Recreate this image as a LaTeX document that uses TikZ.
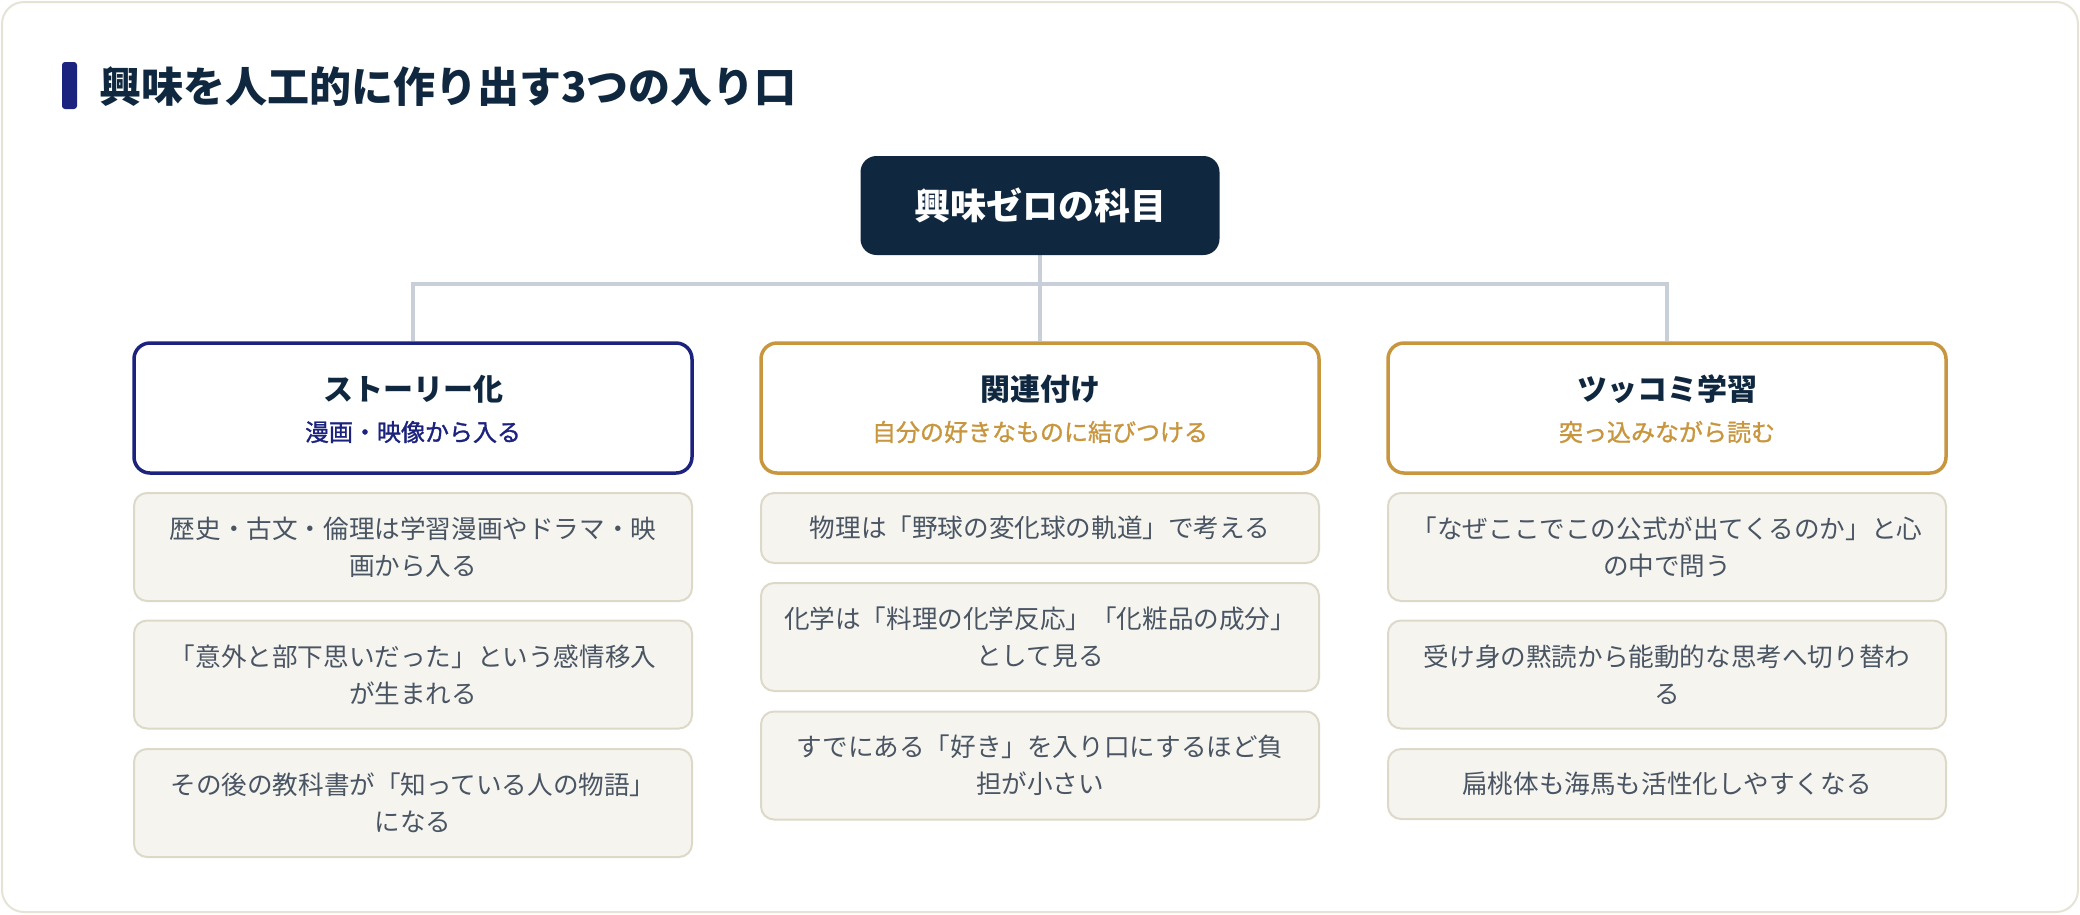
\documentclass[tikz,border=0pt]{standalone}
\usepackage{fontspec}
\usetikzlibrary{backgrounds}
\setmainfont{Noto Sans CJK JP}
\definecolor{framec}{HTML}{E6E3D6}
\definecolor{navyc}{HTML}{1C237E}
\definecolor{darkc}{HTML}{10283F}
\definecolor{goldc}{HTML}{C8963E}
\definecolor{itemfill}{HTML}{F5F4EF}
\definecolor{itemdraw}{HTML}{DDD9C9}
\definecolor{bodyc}{HTML}{4A5563}
\definecolor{connc}{HTML}{C8CFD9}
\tikzset{
  catbox/.style={draw=#1, line width=3.5pt, fill=white, rounded corners=16pt,
    minimum width=558pt, minimum height=130pt, inner sep=0pt},
  cattitle/.style={text=darkc, inner sep=0pt, font=\fontsize{30}{36}\selectfont\bfseries},
  catsub/.style={text=#1, inner sep=0pt, font=\fontsize{24}{30}\selectfont\addfontfeatures{FakeBold=1.2}},
  itembox/.style={draw=itemdraw, line width=2pt, fill=itemfill, rounded corners=13pt,
    minimum width=558pt, minimum height=#1, inner sep=0pt, align=center, text=bodyc,
    font=\fontsize{25.6}{37}\selectfont},
  conn/.style={draw=connc, line width=3.5pt}
}
\begin{document}
\begin{tikzpicture}[x=1pt,y=-1pt]
\useasboundingbox (0,0) rectangle (2080,914);
% title
\fill[navyc, rounded corners=3pt] (62,62) rectangle (77,109);
\node[anchor=west, inner sep=0pt, text=darkc, font=\fontsize{42}{48}\selectfont\bfseries] (title) at (99,87) {興味を人工的に作り出す3つの入り口};
% root
\node[fill=darkc, rounded corners=16pt, minimum width=359pt, minimum height=99pt, inner sep=0pt,
  text=white, font=\fontsize{36}{42}\selectfont\bfseries] (root) at (1040,205.5) {興味ゼロの科目};
\coordinate (hub) at (1040,284);
% category boxes
\node[catbox=navyc] (c1) at (413,408) {};
\node[catbox=goldc] (c2) at (1040,408) {};
\node[catbox=goldc] (c3) at (1667,408) {};
\node[cattitle] (t1) at (413,389) {ストーリー化};
\node[catsub=navyc] (s1) at (413,432) {漫画・映像から入る};
\node[cattitle] (t2) at (1040,389) {関連付け};
\node[catsub=goldc] (s2) at (1040,432) {自分の好きなものに結びつける};
\node[cattitle] (t3) at (1667,389) {ツッコミ学習};
\node[catsub=goldc] (s3) at (1667,432) {突っ込みながら読む};
% items column 1
\node[itembox=108pt] (a1) at (413,547) {歴史・古文・倫理は学習漫画やドラマ・映\\画から入る};
\node[itembox=108pt] (a2) at (413,674.5) {「意外と部下思いだった」という感情移入\\が生まれる};
\node[itembox=108pt] (a3) at (413,803) {その後の教科書が「知っている人の物語」\\になる};
% items column 2
\node[itembox=70pt] (b1) at (1040,528) {物理は「野球の変化球の軌道」で考える};
\node[itembox=108pt] (b2) at (1040,637) {化学は「料理の化学反応」「化粧品の成分」\\として見る};
\node[itembox=108pt] (b3) at (1040,765.5) {すでにある「好き」を入り口にするほど負\\担が小さい};
% items column 3
\node[itembox=108pt] (d1) at (1667,547) {「なぜここでこの公式が出てくるのか」と心\\の中で問う};
\node[itembox=108pt] (d2) at (1667,674.5) {受け身の黙読から能動的な思考へ切り替わ\\る};
\node[itembox=70pt] (d3) at (1667,784) {扁桃体も海馬も活性化しやすくなる};
% frame and connectors behind everything
\begin{scope}[on background layer]
\draw[draw=framec, fill=white, line width=2pt, rounded corners=22pt] (2,2) rectangle (2078,912);
\draw[conn] (root.south) -- (hub);
\draw[conn] (c1.north) -- (c1.north |- hub) -- (c3.north |- hub) -- (c3.north);
\draw[conn] (hub) -- (c2.north);
\end{scope}
\end{tikzpicture}
\end{document}
